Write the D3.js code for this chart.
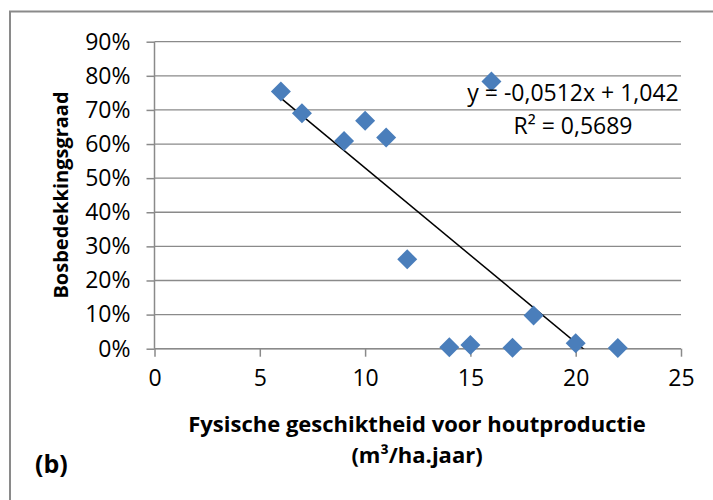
<!DOCTYPE html>
<html lang="nl">
<head>
<meta charset="UTF-8">
<title>Bosbedekkingsgraad</title>
<script src="https://d3js.org/d3.v7.min.js"></script>
<style>
  body { margin: 0; background: #fff; }
  svg { display: block; font-family: "Open Sans", sans-serif; }
</style>
</head>
<body>
<svg id="chart"></svg>
<script>
// data
var xValues = [6, 7, 9, 10, 11, 12, 14, 15, 16, 17, 18, 20, 22];
var yValues = [0.754, 0.690, 0.609, 0.668, 0.619, 0.262, 0.004, 0.011, 0.783, 0.003, 0.097, 0.016, 0.002];
var xTicks = [0, 5, 10, 15, 20, 25];
var yTicks = [0, 0.1, 0.2, 0.3, 0.4, 0.5, 0.6, 0.7, 0.8, 0.9];
var slope = -0.0512, intercept = 1.042;
var eqLabel = "y = -0,0512x + 1,042";
var r2Label = "R² = 0,5689";
var xTitle = ["Fysische geschiktheid voor houtproductie", "(m³/ha.jaar)"];
var yTitle = "Bosbedekkingsgraad";
var panelLabel = "(b)";

var width = 713, height = 500;
var margin = {top: 41.7, right: 32, bottom: 151.3, left: 154.5};
var grey = "#8a8a8a", blue = "#4a7ebb";

var svg = d3.select("#chart").attr("width", width).attr("height", height);

// outer frame (only top and left edges show)
svg.append("rect")
  .attr("x", 10).attr("y", 11.5)
  .attr("width", 800).attr("height", 600)
  .attr("fill", "none").attr("stroke", grey).attr("stroke-width", 2);

var x = d3.scaleLinear().domain([0, 25]).range([margin.left, width - margin.right]);
var y = d3.scaleLinear().domain([0, 0.9]).range([height - margin.bottom, margin.top]);

// gridlines
svg.append("g").selectAll("line")
  .data(yTicks).enter().append("line")
  .attr("x1", x(0)).attr("x2", x(25))
  .attr("y1", function(d) { return y(d); })
  .attr("y2", function(d) { return y(d); })
  .attr("stroke", grey).attr("stroke-width", 1.3);

// y axis
var yAxis = svg.append("g")
  .attr("transform", "translate(" + x(0) + ",0)")
  .call(d3.axisLeft(y).tickValues(yTicks).tickFormat(d3.format(".0%")).tickSize(8).tickPadding(16));

// x axis
var xAxis = svg.append("g")
  .attr("transform", "translate(0," + y(0) + ")")
  .call(d3.axisBottom(x).tickValues(xTicks).tickSize(8).tickPadding(13));

[yAxis, xAxis].forEach(function(ax) {
  ax.select(".domain").attr("stroke", grey).attr("stroke-width", 1.5);
  ax.selectAll(".tick line").attr("stroke", grey).attr("stroke-width", 1.5);
  ax.selectAll(".tick text")
    .attr("fill", "#000")
    .style("font-family", "'Open Sans', sans-serif")
    .style("font-size", "23px");
});
yAxis.select(".domain").attr("d", "M0," + y(0) + "V" + y(0.9));
xAxis.select(".domain").attr("d", "M" + x(0) + ",0H" + x(25));

// trend line, clipped to the plot area
svg.append("clipPath").attr("id", "plotClip")
  .append("rect")
  .attr("x", x(0)).attr("y", y(0.9))
  .attr("width", x(25) - x(0)).attr("height", y(0) - y(0.9));

var xMin = d3.min(xValues), xMax = d3.max(xValues);
svg.append("line")
  .attr("clip-path", "url(#plotClip)")
  .attr("x1", x(xMin)).attr("y1", y(slope * xMin + intercept))
  .attr("x2", x(xMax)).attr("y2", y(slope * xMax + intercept))
  .attr("stroke", "#000").attr("stroke-width", 1.5);

// diamond markers
var diamond = d3.symbol().type(d3.symbolSquare).size(200);
svg.append("g").selectAll("path")
  .data(xValues).enter().append("path")
  .attr("d", diamond)
  .attr("transform", function(d, i) {
    return "translate(" + x(d) + "," + y(yValues[i]) + ") rotate(45)";
  })
  .attr("fill", blue);

// trend equation
svg.append("text")
  .attr("x", 573).attr("y", 101)
  .attr("text-anchor", "middle")
  .style("font-size", "23px")
  .text(eqLabel);
svg.append("text")
  .attr("x", 573).attr("y", 134)
  .attr("text-anchor", "middle")
  .style("font-size", "23px")
  .text(r2Label);

// axis titles
svg.append("text")
  .attr("transform", "translate(68,195) rotate(-90)")
  .attr("text-anchor", "middle")
  .style("font-size", "20px").style("font-weight", "bold")
  .text(yTitle);

svg.selectAll(".xtitle")
  .data(xTitle).enter().append("text")
  .attr("class", "xtitle")
  .attr("x", 417)
  .attr("y", function(d, i) { return 432 + i * 31; })
  .attr("text-anchor", "middle")
  .style("font-size", "22px").style("font-weight", "bold")
  .text(function(d) { return d; });

svg.append("text")
  .attr("x", 35).attr("y", 473)
  .style("font-size", "25px").style("font-weight", "bold")
  .text(panelLabel);
</script>
</body>
</html>
